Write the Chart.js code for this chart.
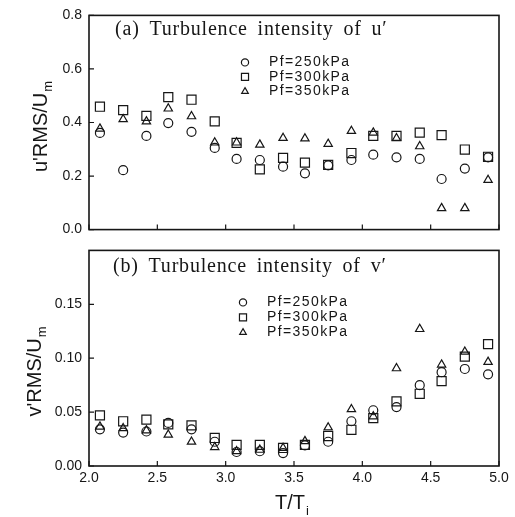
<!DOCTYPE html>
<html><head><meta charset="utf-8">
<script src="https://cdn.jsdelivr.net/npm/chart.js@4.4.0/dist/chart.umd.min.js"></script>
<style>
html,body{margin:0;padding:0;background:#fff;width:515px;height:517px;overflow:hidden}
#w1{position:absolute;left:0;top:0;width:515px;height:245px}
#w2{position:absolute;left:0;top:235px;width:515px;height:282px}
</style></head><body>
<div id="w1"><canvas id="c1"></canvas></div>
<div id="w2"><canvas id="c2"></canvas></div>
<script>
// ---- data ----
const tRatio = [2.08,2.25,2.42,2.58,2.75,2.92,3.08,3.25,3.42,3.58,3.75,3.92,4.08,4.25,4.42,4.58,4.75,4.92];
const u250 = [0.361,0.222,0.350,0.398,0.365,0.305,0.264,0.260,0.235,0.210,0.240,0.260,0.280,0.270,0.264,0.189,0.228,0.270];
const u300 = [0.459,0.446,0.425,0.495,0.485,0.404,0.324,0.225,0.268,0.250,0.242,0.286,0.350,0.350,0.362,0.353,0.299,0.272];
const u350 = [0.377,0.412,0.404,0.452,0.423,0.325,0.325,0.317,0.342,0.340,0.320,0.368,0.362,0.341,0.311,0.080,0.080,0.185];
const v250 = [0.034,0.031,0.032,0.040,0.034,0.0225,0.013,0.0137,0.012,0.019,0.0225,0.0415,0.0517,0.0547,0.075,0.087,0.090,0.085];
const v300 = [0.047,0.0415,0.043,0.0386,0.0377,0.026,0.0196,0.0196,0.0167,0.0196,0.0278,0.0336,0.0444,0.060,0.067,0.0787,0.1015,0.113];
const v350 = [0.0365,0.035,0.033,0.029,0.0225,0.0175,0.0137,0.015,0.0167,0.023,0.0357,0.0526,0.046,0.0906,0.127,0.094,0.106,0.0965];
const seriesLabels = ['Pf=250kPa','Pf=300kPa','Pf=350kPa'];
const pointStyles = ['circle','rect','triangle'];
const xTicks = [2.0,2.5,3.0,3.5,4.0,4.5,5.0];
const uTicks = [0.0,0.2,0.4,0.6,0.8];
const vTicks = [0.00,0.05,0.10,0.15];
const panelTitles = ['(a) Turbulence intensity of u\u2032','(b) Turbulence intensity of v\u2032'];
const yTitles = [["u'RMS/U","m"],["v'RMS/U","m"]];
const xTitle = ["T/T","i"];

const INK = '#161616';
const markerRadius = [4.5, 6.4, 4.8];
const legendRadius = [3.6, 5.0, 3.8];
const pts = (ys) => tRatio.map((x,i)=>({x:x,y:ys[i]}));
function datasets(arrs){
  return arrs.map((a,i)=>({
    label: seriesLabels[i], data: pts(a), pointStyle: pointStyles[i],
    pointRadius: markerRadius[i], pointBorderColor: INK, pointBackgroundColor:'rgba(0,0,0,0)',
    pointBorderWidth: 1.2, showLine:false
  }));
}

function drawRotTitle(ctx, parts, bx, cy){
  ctx.save();
  ctx.translate(bx, cy); ctx.rotate(-Math.PI/2);
  ctx.font = '20px "Liberation Sans", Arial, sans-serif';
  const w1 = ctx.measureText(parts[0]).width;
  ctx.font = '13px "Liberation Sans", Arial, sans-serif';
  const w2 = ctx.measureText(parts[1]).width;
  const x0 = -(w1+w2)/2;
  ctx.fillStyle = INK; ctx.textBaseline='alphabetic'; ctx.textAlign='left';
  ctx.font = '20px "Liberation Sans", Arial, sans-serif';
  ctx.fillText(parts[0], x0, 0);
  ctx.font = '13px "Liberation Sans", Arial, sans-serif';
  ctx.fillText(parts[1], x0+w1+1, 5);
  ctx.restore();
}

function deco(cfg){
  return {
    id:'deco',
    afterDraw(chart){
      const ctx = chart.ctx, a = chart.chartArea;
      const xs = chart.scales.x, ys = chart.scales.y;
      ctx.save();
      ctx.strokeStyle = INK; ctx.lineWidth = 1.6;
      ctx.strokeRect(a.left, a.top, a.right-a.left, a.bottom-a.top);
      ctx.lineWidth = 1.2;
      ctx.beginPath();
      cfg.yt.forEach(v=>{ const y=ys.getPixelForValue(v); ctx.moveTo(a.left,y); ctx.lineTo(a.left+5,y); });
      xTicks.forEach(v=>{ const x=xs.getPixelForValue(v); ctx.moveTo(x,a.bottom); ctx.lineTo(x,a.bottom-5); });
      ctx.stroke();
      // panel title
      ctx.fillStyle = INK;
      ctx.font = '20px "Liberation Serif", "Times New Roman", serif';
      ctx.letterSpacing = '0.8px';
      try { ctx.wordSpacing = '4px'; } catch(e){}
      ctx.textAlign='left'; ctx.textBaseline='alphabetic';
      ctx.fillText(cfg.title, cfg.titleX, a.top + cfg.titleDy);
      try { ctx.wordSpacing = '0px'; } catch(e){}
      // legend
      ctx.font = '14px "Liberation Sans", Arial, sans-serif';
      ctx.letterSpacing = '1.4px';
      ctx.textBaseline = 'middle';
      chart.data.datasets.forEach((d,i)=>{
        const y = a.top + cfg.legDy + i*cfg.legStep;
        ctx.strokeStyle = INK; ctx.fillStyle='rgba(0,0,0,0)';
        Chart.helpers.drawPoint(ctx, {pointStyle:d.pointStyle, radius: legendRadius[i], borderWidth:1.1, rotation:0}, cfg.legMx, y);
        ctx.fillStyle = INK;
        ctx.fillText(d.label, cfg.legTx, y);
      });
      ctx.letterSpacing = '0px';
      drawRotTitle(ctx, cfg.ytitle, cfg.ytX, cfg.ytY);
      if (cfg.xtitle){
        ctx.font = '20px "Liberation Sans", Arial, sans-serif';
        const w1 = ctx.measureText(cfg.xtitle[0]).width;
        ctx.textAlign='left'; ctx.textBaseline='alphabetic';
        ctx.fillText(cfg.xtitle[0], cfg.xtX - w1/2, cfg.xtY);
        ctx.font = '13px "Liberation Sans", Arial, sans-serif';
        ctx.fillText(cfg.xtitle[1], cfg.xtX + w1/2 + 1, cfg.xtY + 6);
      }
      ctx.restore();
    }
  };
}

const tickFont = {family:'"Liberation Sans", Arial, sans-serif', size:14};

function makeChart(id, arrs, yMin, yMax, yt, dec, showX, cfg){
  return new Chart(document.getElementById(id), {
    type:'scatter',
    data:{datasets: datasets(arrs)},
    options:{
      responsive:true, maintainAspectRatio:false, animation:false, devicePixelRatio:1,
      layout:{padding: cfg.pad},
      plugins:{legend:{display:false}, tooltip:{enabled:false}},
      scales:{
        x:{type:'linear', min:2, max:5, display: showX,
           afterBuildTicks: s=>{ s.ticks = xTicks.map(v=>({value:v})); },
           afterFit: s=>{ if(showX) s.height = 51; },
           grid:{display:false, drawTicks:false}, border:{display:false},
           ticks:{font:tickFont, color:INK, padding:4, maxRotation:0, callback:v=>Number(v).toFixed(1)}},
        y:{type:'linear', min:yMin, max:yMax,
           afterBuildTicks: s=>{ s.ticks = yt.map(v=>({value:v})); },
           afterFit: s=>{ s.width = 89; },
           grid:{display:false, drawTicks:false}, border:{display:false},
           ticks:{font:tickFont, color:INK, padding:7, callback:v=>Number(v).toFixed(dec)}}
      }
    },
    plugins:[deco(cfg)]
  });
}

makeChart('c1', [u250,u300,u350], 0, 0.8, uTicks, 1, false, {
  pad:{top:14, right:16, bottom:6, left:0}, yt:uTicks,
  title: panelTitles[0], titleX:115, titleDy:20,
  legDy:47, legStep:14.5, legMx:245, legTx:269,
  ytitle: yTitles[0], ytX:47, ytY:127
});
makeChart('c2', [v250,v300,v350], 0, 0.2, vTicks, 2, true, {
  pad:{top:5, right:16, bottom:0, left:0}, yt:vTicks,
  title: panelTitles[1], titleX:113, titleDy:22,
  legDy:52, legStep:15, legMx:243, legTx:267,
  ytitle: yTitles[1], ytX:41, ytY:372-235,
  xtitle: xTitle, xtX:290, xtY:509-235
});
</script>
</body></html>
